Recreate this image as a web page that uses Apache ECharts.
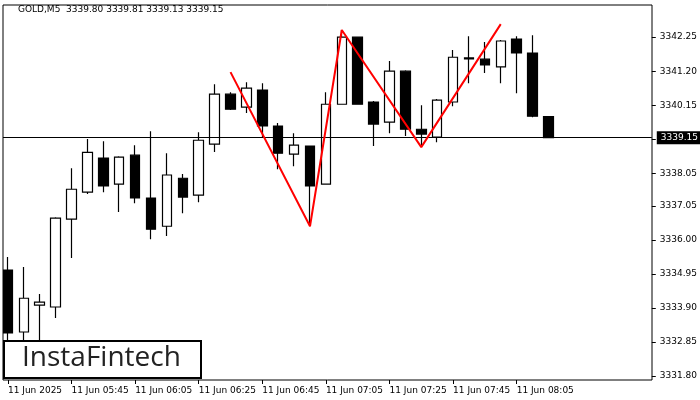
<!DOCTYPE html>
<html><head><meta charset="utf-8">
<script src="https://cdn.jsdelivr.net/npm/echarts@6/dist/echarts.min.js"></script>
<style>html,body{margin:0;padding:0;background:#fff}#c{width:700px;height:400px}</style>
</head><body><div id="c"></div>
<script>
const times = ['05:25','05:30','05:35','05:40','05:45','05:50','05:55','06:00','06:05','06:10','06:15','06:20','06:25','06:30','06:35','06:40','06:45','06:50','06:55','07:00','07:05','07:10','07:15','07:20','07:25','07:30','07:35','07:40','07:45','07:50','07:55','08:00','08:05','08:10','08:15','08:20','08:25','08:30','08:35','08:40','08:45'];
// [open, close, low, high]
const opens  = [3335.07,3333.16,3333.99,3333.93,3336.64,3337.47,3338.52,3337.72,3338.61,3337.29,3336.42,3337.90,3337.38,3338.95,3340.49,3340.09,3340.62,3339.51,3338.64,3338.89,3337.72,3340.18,3342.25,3340.25,3339.63,3341.20,3339.41,3339.17,3340.25,3341.61,3341.57,3341.33,3342.19,3341.76,3339.80];
const closes = [3333.13,3334.20,3334.08,3336.67,3337.56,3338.70,3337.66,3338.55,3337.29,3336.33,3338.00,3337.32,3339.07,3340.49,3340.03,3340.68,3339.51,3338.67,3338.92,3337.66,3340.18,3342.25,3340.18,3339.57,3341.20,3339.41,3339.26,3340.31,3341.63,3341.58,3341.39,3342.13,3341.76,3339.81,3339.15];
const lows   = [3332.76,3332.76,3332.60,3333.59,3335.44,3337.41,3337.47,3336.86,3337.13,3336.02,3336.12,3336.82,3337.16,3338.71,3340.00,3339.91,3339.17,3338.18,3338.27,3336.45,3337.72,3340.18,3340.18,3338.89,3339.29,3339.20,3338.92,3339.01,3340.12,3340.83,3341.14,3340.83,3340.52,3339.78,3339.13];
const highs  = [3335.47,3335.16,3334.33,3336.70,3338.21,3339.11,3339.04,3338.58,3338.92,3339.35,3338.67,3338.03,3339.32,3340.80,3340.55,3340.86,3340.83,3339.60,3339.29,3338.89,3340.55,3342.47,3342.25,3340.28,3341.51,3341.23,3340.15,3340.34,3341.85,3342.28,3342.10,3342.16,3342.28,3342.31,3339.81];
const patternIdx = [14,19,21,26,31];
const patternVal = [3341.17,3336.42,3342.47,3338.86,3342.65];
const yTicks = [3331.80,3332.85,3333.90,3334.95,3336.00,3337.05,3338.05,3339.10,3340.15,3341.20,3342.25];
const lastPrice = 3339.15;

const ohlc = opens.map((o,i)=>[o,closes[i],lows[i],highs[i]]);
const pattern = patternIdx.map((x,i)=>[x,patternVal[i]]);
const F = 'DejaVu Sans';
const showTick = i => i%4===0 && i<=32;
const chart = echarts.init(document.getElementById('c'));
chart.setOption({
  animation:false,
  grid:{left:-4,right:48,top:5,bottom:20,show:false},
  xAxis:{type:'category',data:times,boundaryGap:true,
    axisLine:{show:false},
    axisTick:{show:true,alignWithLabel:true,interval:(i)=>showTick(i),length:4,lineStyle:{color:'#000'}},
    axisLabel:{interval:(i)=>showTick(i),align:'left',margin:6,color:'#000',fontFamily:F,fontSize:9,
      formatter:(v,i)=> i===0?'11 Jun 2025':'11 Jun '+v},
    splitLine:{show:false}},
  yAxis:{type:'value',position:'right',min:3331.68,max:3343.24,scale:true,
    axisLine:{show:false},
    axisTick:{show:true,customValues:yTicks,length:4,lineStyle:{color:'#000'}},
    axisLabel:{customValues:yTicks,color:'#000',fontFamily:F,fontSize:9,margin:8,formatter:v=>v.toFixed(2)},
    splitLine:{show:false}},
  series:[
    {type:'candlestick',data:ohlc,barWidth:10,
      itemStyle:{color:'#fff',color0:'#000',borderColor:'#000',borderColor0:'#000',borderWidth:1.2},
      markLine:{symbol:'none',silent:true,data:[{yAxis:lastPrice}],
        lineStyle:{color:'#000',type:'solid',width:1},
        label:{position:'end',formatter:lastPrice.toFixed(2),backgroundColor:'#000',color:'#fff',
          fontFamily:F,fontSize:9,padding:[2,4,2,4],distance:5}}},
    {type:'line',data:pattern,showSymbol:false,lineStyle:{color:'#ff0000',width:2},z:5}
  ],
  graphic:[
    {type:'rect',shape:{x:0,y:0,width:3,height:400},style:{fill:'#fff'},z:50},
    {type:'rect',shape:{x:3,y:5,width:649,height:375},style:{fill:'none',stroke:'#000',lineWidth:1},z:51},
    {type:'text',x:18,y:5,style:{text:'GOLD,M5  3339.80 3339.81 3339.13 3339.15',font:'9px DejaVu Sans',fill:'#000'},z:52},
    {type:'rect',shape:{x:4,y:341,width:197,height:37},style:{fill:'#fff',stroke:'#000',lineWidth:2},z:60},
    {type:'text',x:22,y:344,style:{text:'InstaFintech',font:'500 28px "Open Sans"',fill:'#222'},z:61}
  ]
});
</script></body></html>
